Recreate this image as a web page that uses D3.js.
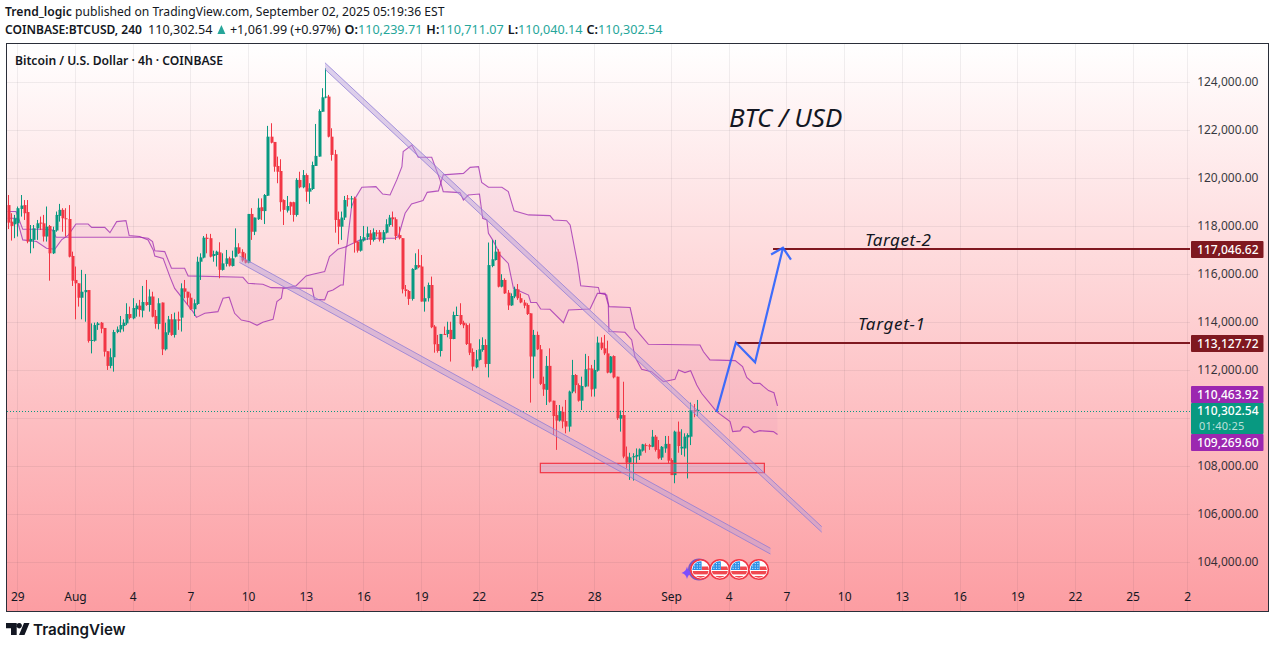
<!DOCTYPE html>
<html><head><meta charset="utf-8">
<script src="https://cdn.jsdelivr.net/npm/d3@7"></script>
<style>
html,body{margin:0;padding:0;background:#fff;overflow:hidden}
text{font-family:"Noto Sans","Open Sans",sans-serif;}
</style></head><body><svg id="c" width="1275" height="648"></svg>
<script>
// All prices in thousands of USD; bar numbers count 4h candles.
const opens=[118.83,118.14,118.03,118.07,118.67,118.83,118.54,117.31,117.38,117.86,
118.10,118.07,117.52,117.96,116.82,117.77,118.38,118.63,118.28,118.25,
116.71,115.71,115.57,114.97,115.20,115.29,113.17,113.18,113.83,113.93,
113.71,112.74,112.13,112.49,113.54,113.65,113.79,113.90,114.29,114.11,
114.49,114.64,114.43,114.79,114.67,115.02,114.21,113.88,114.77,112.82,
113.52,114.07,113.42,114.07,114.14,115.36,115.22,114.97,114.49,114.71,
116.47,116.64,117.47,117.45,116.71,116.75,116.86,116.13,116.38,116.61,
116.29,116.68,117.07,116.88,116.54,116.43,118.46,117.72,118.24,118.74,
118.58,119.22,121.68,121.46,120.46,120.25,119.04,118.60,118.95,118.95,
118.42,119.88,119.57,120.08,119.39,119.50,120.46,120.85,122.72,123.31,
123.35,121.68,120.95,118.24,117.93,118.31,119.11,119.07,119.11,117.31,
116.93,117.35,117.49,117.65,117.38,117.68,117.70,117.38,117.68,118.00,
118.32,118.24,117.58,117.45,115.32,115.25,114.92,116.15,116.33,116.27,
114.81,114.95,115.50,113.77,113.04,112.75,113.46,113.46,113.63,113.25,
114.22,114.25,113.93,113.83,113.07,112.71,112.07,112.38,112.79,113.00,
112.21,116.29,116.54,116.89,115.43,115.71,115.18,114.65,115.02,115.32,
114.95,114.77,114.67,114.32,112.52,113.42,112.82,111.38,111.13,112.13,
110.68,110.08,109.85,110.22,109.83,109.60,111.06,111.75,111.33,110.68,
111.27,112.02,112.02,111.18,111.93,113.10,112.86,112.65,111.85,112.54,
111.68,109.93,110.08,108.35,108.10,108.32,108.35,108.39,108.60,108.83,
108.83,108.76,109.18,108.65,108.31,108.69,108.88,108.21,107.58,109.39,
108.69,108.69,109.15,109.18,110.29,110.24];
const closes=[118.10,117.96,118.28,118.70,118.81,118.49,117.31,117.42,117.86,118.07,
118.07,117.52,117.93,116.82,117.79,118.42,118.63,118.28,118.24,116.68,
115.68,115.57,114.97,115.22,115.29,113.17,113.21,113.83,113.90,113.68,
112.72,112.13,112.49,113.54,113.65,113.83,113.93,114.29,114.13,114.54,
114.64,114.46,114.79,114.67,115.02,114.18,113.88,114.74,112.82,113.53,
114.07,113.42,114.07,114.01,115.36,115.22,114.97,114.49,114.74,116.47,
116.65,117.47,117.42,116.68,116.79,116.89,116.13,116.40,116.61,116.31,
116.61,117.07,116.82,116.52,116.43,118.46,117.72,118.31,118.72,118.58,
119.25,121.68,121.43,120.43,120.22,118.95,118.63,118.79,118.77,118.42,
119.88,119.57,120.08,119.39,119.53,120.50,120.88,122.75,123.32,123.35,
121.68,120.92,118.21,117.93,118.31,119.04,119.07,119.11,117.27,116.93,
117.38,117.49,117.65,117.38,117.70,117.64,117.38,117.70,118.03,118.31,
118.24,117.54,117.45,115.32,115.25,114.92,116.17,116.33,116.24,114.81,
114.95,115.50,113.74,113.03,112.75,113.46,113.42,113.63,113.25,114.25,
114.25,113.88,113.82,113.04,112.68,112.10,112.40,112.82,113.00,112.21,
116.33,116.57,116.89,115.43,115.71,115.15,114.65,115.04,115.32,114.95,
114.77,114.64,114.29,112.52,113.42,112.82,111.38,111.15,112.13,110.64,
110.04,109.85,110.25,109.81,109.60,111.06,111.75,111.33,110.68,111.29,
111.99,111.99,111.15,111.96,113.10,112.86,112.65,111.85,112.52,111.65,
109.95,110.08,108.35,108.10,108.32,108.37,108.42,108.65,108.86,108.81,
108.76,109.18,108.63,108.28,108.76,108.88,108.18,107.58,109.39,108.79,
108.76,109.18,109.25,110.29,110.22,110.30];
const highs=[119.25,118.49,118.42,118.77,119.25,119.04,119.04,118.00,118.00,118.21,
118.35,118.42,118.77,118.00,117.93,118.56,118.88,118.70,118.70,118.83,
116.89,116.27,115.57,116.13,115.96,115.29,113.90,113.93,113.96,113.96,
113.71,112.74,112.86,113.63,113.77,114.21,114.07,114.74,114.60,114.95,
114.74,114.88,115.46,115.71,115.32,115.22,114.46,114.95,114.77,113.93,
114.21,114.29,114.35,114.39,115.57,115.71,115.22,115.15,114.90,116.68,
116.82,117.54,117.63,117.63,116.93,116.93,117.28,116.82,116.96,116.68,
116.93,117.86,117.24,116.99,116.82,118.46,118.70,118.31,119.11,119.11,
119.29,122.13,122.24,121.46,120.85,120.74,119.07,119.21,118.97,118.97,
119.95,120.22,120.29,120.15,119.74,120.64,122.21,122.82,123.70,124.53,
123.42,122.03,121.13,118.56,118.56,119.21,119.25,119.21,119.18,117.31,
117.54,117.96,117.93,117.79,117.86,117.79,117.79,117.79,118.24,118.42,
118.56,118.32,117.93,117.45,115.50,115.29,116.20,116.82,116.99,116.75,
115.43,115.60,115.85,113.83,113.42,113.46,113.77,113.97,113.97,114.39,
114.60,114.74,114.01,113.90,113.90,112.86,112.79,113.24,113.32,113.24,
117.27,117.38,117.38,116.99,115.95,115.78,115.29,115.15,115.43,115.54,
115.15,114.88,114.74,114.32,113.63,113.56,113.00,111.68,112.54,112.86,
110.68,110.50,110.50,110.43,110.71,111.10,112.38,111.79,111.40,111.68,
112.63,112.54,112.17,112.38,113.35,113.32,113.42,113.18,112.54,112.57,
111.68,110.27,111.47,108.77,108.51,108.49,108.69,108.69,108.88,108.90,
108.88,109.46,109.25,109.04,108.79,109.21,109.21,108.28,109.43,109.81,
109.49,109.32,109.32,110.60,110.54,110.71];
const lows=[117.83,117.35,117.45,117.52,118.35,118.21,117.24,116.82,117.03,117.38,
117.79,117.31,117.31,115.68,116.79,117.72,118.14,117.72,117.52,116.65,
115.46,114.07,114.60,114.07,113.97,113.10,112.65,113.14,113.63,113.49,
112.52,111.96,112.03,111.89,113.49,113.52,113.56,113.83,114.07,114.07,
114.18,114.18,114.15,114.63,114.39,114.15,113.68,113.65,112.58,112.77,
113.42,113.38,113.31,113.63,113.56,114.95,114.67,114.46,114.21,114.67,
115.71,116.61,116.82,116.65,116.47,116.27,115.78,116.10,116.27,116.27,
116.27,116.65,116.79,116.47,116.40,116.40,117.38,117.58,118.21,118.21,
118.04,119.21,121.40,120.22,119.74,118.56,118.00,118.52,118.42,118.14,
118.35,119.53,119.53,118.97,118.88,119.46,120.46,120.85,122.72,123.28,
121.65,120.68,117.68,117.20,117.38,118.21,118.77,118.70,116.85,116.85,
116.89,117.31,117.38,117.17,117.31,117.52,117.31,117.24,117.65,117.93,
117.93,117.38,117.40,115.15,115.02,114.67,114.85,116.13,116.20,114.81,
114.39,114.81,113.70,112.68,112.68,112.52,113.42,113.32,112.31,113.24,
114.21,113.83,113.70,113.00,112.58,111.93,112.03,112.35,112.72,112.07,
111.65,116.24,116.52,115.40,115.40,115.13,114.46,114.63,114.95,114.88,
114.74,114.53,114.25,110.60,111.61,112.79,111.33,110.88,110.50,110.60,
109.25,108.63,109.81,109.53,109.32,109.39,110.99,110.99,110.64,110.29,
111.24,111.27,110.85,110.85,111.89,112.79,112.58,111.82,111.82,111.61,
109.88,109.39,108.28,107.86,107.38,107.35,108.07,108.21,108.56,108.51,
108.63,108.74,108.56,108.24,108.21,108.51,108.07,107.58,107.24,108.51,
108.42,108.35,107.44,108.83,109.99,110.04];

const spanBBars=[0,2.6,4.7,11.1,14,15.1,41.2,43.8,45.2,45.9,49,51.1,55.2,56.3,73.4,75,79.6,82.2,95,95.7,98.9,99.9,101.5,103.9,104.7,105.6,110,114.2,120.8,121.9,124,126,129.6,130.9,134.4,135.9,142.2,144.3,146.9,147.9,150,154.2,156.2,158,162.5,169.2,170.3,174.4,175.5,177.8,178.8,184.3,184.8,186.9,187.6,194.2,195.7,199.9,216,217.1,219.1,227,229.3,230.6,232.7,234.7,237.4,239.1,240.2];
const spanBValues=[118.56,118.56,117.82,117.82,117.79,117.49,117.49,117.45,117.31,116.93,116.89,116.20,116.20,115.88,115.82,115.57,115.53,115.39,115.36,114.90,114.88,115.22,115.29,115.50,115.50,117.10,117.38,117.45,117.45,117.52,118.49,118.88,119.02,119.36,119.42,120.09,120.15,120.40,120.43,119.77,119.57,119.57,119.39,118.59,118.42,118.39,118.21,118.18,118.00,116.40,115.47,115.40,115.15,115.09,114.60,114.56,113.69,113.03,113.00,112.72,112.38,112.35,112.10,111.65,111.40,111.40,111.10,111.01,110.46];
const spanABars=[0,2.8,4.7,9,12.1,14.7,16.8,18.9,21.3,25.1,26.2,30.3,31.9,34,36.9,37.9,41.2,43.8,45.4,45.9,48.5,50.6,52.1,57.8,58.9,61.5,65.6,67.2,69.1,70.8,72.9,75.5,77.8,79.6,82.8,84,85.4,85.9,90,93.1,95.2,98.9,100.4,103,105.8,107.3,108.4,110.5,114.9,117,119.3,121.4,123,123.4,126.1,128.1,132.3,134.9,135.9,141.1,142.2,143.7,147.2,148.2,149.5,150,151.3,152.4,153.6,156.2,157.8,162.5,163.2,165,166.3,169.2,173.4,175,181.7,184,186.4,187.4,187.6,192.6,194.7,195.7,197.8,200.9,204.6,208.2,209.3,211.3,213.1,215,216.5,221.2,225.4,226.2,228.5,229.5,231.1,232.9,234.7,238.9,240.2];
const spanAValues=[118.28,118.28,117.38,117.31,117.03,116.99,117.38,117.58,118.04,118.04,117.90,117.90,117.68,118.14,118.18,117.56,117.52,117.38,116.96,116.71,116.61,115.85,115.36,114.39,114.15,114.32,114.39,114.95,114.99,114.32,114.04,113.97,113.82,113.95,114.07,114.81,114.95,115.36,115.47,115.88,115.95,116.06,116.68,116.99,117.10,118.77,119.11,119.57,119.60,119.29,119.25,119.88,120.43,121.06,121.33,120.82,120.82,119.88,119.39,119.35,119.04,119.25,119.29,118.28,118.21,117.65,117.38,117.10,116.75,116.40,115.36,115.08,114.77,114.77,114.50,114.49,113.93,114.46,114.50,115.15,115.15,114.67,113.56,113.53,113.21,112.51,111.99,111.89,111.47,111.57,111.96,111.85,111.93,111.33,110.99,110.22,109.81,109.39,109.42,109.60,109.57,109.35,109.43,109.39,109.27];

const priceTicks=[104,106,108,110,112,114,116,118,120,122,124];
const labelledTicks=[104,106,108,112,114,116,118,120,122,124];
const dateBars=[3,21,39,57,75,93,111,129,147,165,183,207,225,243,261,279,297,315,333,351,368];
const dateLabels=["29","Aug","4","7","10","13","16","19","22","25","28","Sep","4","7","10","13","16","19","22","25","2"];

const channelBars=[[99,254],[72.3,238]];
const channelTop=[[124.76,105.43],[116.71,104.53]];
const channelBottom=[[124.49,105.20],[116.44,104.29]];
const zoneBars=[166.2,236.1];
const zonePrices=[108.07,107.68];
const arrowBars=[221.2,227.2,233.2,241.9];
const arrowPrices=[110.22,113.10,112.28,117.05];
const headBars=[238.2,241.9,244.4];
const headPrices=[116.77,117.05,116.56];
const targets=[117.04662,113.12772];
const targetStarts=[238.8,227.2];
const flagBars=[216.2,222.2,228.2,234.3];
const lastPrice=110.30254, spanALast=109.2696, spanBLast=110.46392;

const svg=d3.select("#c");
const x=d3.scaleLinear().domain([0,368]).range([7.7,1187.1]);
const y=d3.scaleLinear().domain([104,124]).range([562,82]);      // axis, grid, target lines
const yMark=d3.scaleLinear().domain([104,124]).range([561,81]);  // marks
const fmt=d3.format(",.2f");
const usd=v=>fmt(v*1000);

const defs=svg.append("defs");
const g0=defs.append("linearGradient").attr("id","bg").attr("x1",0).attr("x2",0).attr("y1",0).attr("y2",1);
g0.append("stop").attr("offset",0).attr("stop-color","#ffffff");
g0.append("stop").attr("offset",1).attr("stop-color","#fc9da2");
defs.append("clipPath").attr("id","pl").append("rect").attr("x",7).attr("y",44).attr("width",1261).attr("height",567);
defs.append("clipPath").attr("id","fc").append("circle").attr("r",8.2);

// header
const ink="#131722";
svg.append("text").attr("x",5).attr("y",16).attr("font-size",12.13).attr("fill",ink)
  .html('<tspan font-weight="600">Trend_logic</tspan> published on TradingView.com, September 02, 2025 05:19:36 EST');
const hdr=svg.append("text").attr("x",5).attr("y",34).attr("font-size",12.6).attr("fill",ink);
hdr.html('<tspan font-weight="600" font-size="12.05">COINBASE:BTCUSD, 240</tspan><tspan dx="6">110,302.54</tspan><tspan dx="17.5">+1,061.99 (+0.97%)</tspan>'+
 '<tspan dx="4" font-weight="600">O:</tspan><tspan fill="#26a69a">110,239.71</tspan><tspan dx="4" font-weight="600">H:</tspan><tspan fill="#26a69a">110,711.07</tspan>'+
 '<tspan dx="4" font-weight="600">L:</tspan><tspan fill="#26a69a">110,040.14</tspan><tspan dx="4" font-weight="600">C:</tspan><tspan fill="#26a69a">110,302.54</tspan>');
const triX=hdr.selectAll("tspan").nodes()[1].getEndPositionOfChar(9).x;
svg.append("path").attr("d",`M${triX+5} 34 L${triX+9} 25 L${triX+13} 34Z`).attr("fill","#26a69a");

// plot background
svg.append("rect").attr("x",6.5).attr("y",43.5).attr("width",1262).attr("height",568).attr("fill","url(#bg)");

// grid
const grid=svg.append("g");
grid.selectAll("line.h").data(priceTicks).join("line").attr("class","h")
 .attr("x1",7).attr("x2",1190).attr("y1",d=>Math.round(y(d))+.5).attr("y2",d=>Math.round(y(d))+.5)
 .attr("stroke","#2a2e39").attr("stroke-opacity",.07);
grid.selectAll("line.v").data(dateBars).join("line").attr("class","v")
 .attr("y1",44).attr("y2",611).attr("x1",d=>Math.round(x(d))+.5).attr("x2",d=>Math.round(x(d))+.5)
 .attr("stroke","#2a2e39").attr("stroke-opacity",.07);

const plot=svg.append("g").attr("clip-path","url(#pl)");

// Cloud
const line=d3.line().x(d=>x(d[0])).y(d=>yMark(d[1]));
const sa=spanABars.map((b,i)=>[b,spanAValues[i]]);
const sb=spanBBars.map((b,i)=>[b,spanBValues[i]]);
plot.append("path").attr("d",line(sa.concat(sb.slice().reverse()))+"Z").attr("fill","#9c27b0").attr("fill-opacity",.045).attr("stroke","none");
[sa,sb].forEach(s=>plot.append("path").attr("d",line(s)).attr("fill","none").attr("stroke","#9c27b0").attr("stroke-opacity",.75).attr("stroke-width",1.1));

// last-price dotted line
plot.append("line").attr("x1",7).attr("x2",1190).attr("y1",Math.round(y(lastPrice))+.5).attr("y2",Math.round(y(lastPrice))+.5)
 .attr("stroke","#089981").attr("stroke-dasharray","1 2");

// candles
const bars=d3.range(opens.length);
const col=i=>closes[i]>=opens[i]?"#089981":"#f23645";
plot.selectAll("line.w").data(bars).join("line").attr("class","w")
 .attr("x1",i=>Math.round(x(i))+.5).attr("x2",i=>Math.round(x(i))+.5)
 .attr("y1",i=>yMark(highs[i])).attr("y2",i=>yMark(lows[i])).attr("stroke",col).attr("stroke-width",1);
plot.selectAll("rect.b").data(bars).join("rect").attr("class","b")
 .attr("x",i=>Math.round(x(i))-.5).attr("width",3)
 .attr("y",i=>Math.min(yMark(opens[i]),yMark(closes[i])))
 .attr("height",i=>Math.max(1,Math.abs(yMark(opens[i])-yMark(closes[i])))).attr("fill",col);

// zone
plot.append("rect").attr("x",x(zoneBars[0])).attr("width",x(zoneBars[1])-x(zoneBars[0]))
 .attr("y",yMark(zonePrices[0])).attr("height",yMark(zonePrices[1])-yMark(zonePrices[0]))
 .attr("fill","#b39ddb").attr("fill-opacity",.25).attr("stroke","#f23645").attr("stroke-width",1.2);

// channels
channelBars.forEach((b,k)=>{
 const pts=[[b[0],channelTop[k][0]],[b[1],channelTop[k][1]],[b[1],channelBottom[k][1]],[b[0],channelBottom[k][0]]];
 plot.append("path").attr("d",line(pts)+"Z").attr("fill","#b39ddb").attr("fill-opacity",.45);
 plot.append("path").attr("d",line(pts.slice(0,2))).attr("stroke","#8c7ad6").attr("stroke-opacity",.75).attr("fill","none");
 plot.append("path").attr("d",line(pts.slice(2))).attr("stroke","#8c7ad6").attr("stroke-opacity",.75).attr("fill","none");
});

// target lines
targets.forEach((t,k)=>plot.append("line").attr("x1",x(targetStarts[k])).attr("x2",1190)
 .attr("y1",y(t)).attr("y2",y(t)).attr("stroke","#7f1820").attr("stroke-width",2));

// arrow
plot.append("path").attr("d",line(arrowBars.map((b,i)=>[b,arrowPrices[i]]))).attr("fill","none").attr("stroke","#2962ff").attr("stroke-opacity",.9).attr("stroke-width",2.2).attr("stroke-linejoin","miter");
plot.append("path").attr("d",line(headBars.map((b,i)=>[b,headPrices[i]]))).attr("fill","none").attr("stroke","#2962ff").attr("stroke-opacity",.9).attr("stroke-width",2.2);

// annotation text
const ital=(t,px,py,s,ls,ws)=>plot.append("text").attr("x",px).attr("y",py).attr("font-size",s).attr("font-style","italic").attr("fill",ink).attr("letter-spacing",ls).attr("word-spacing",ws).text(t);
ital("BTC / USD",729,127,26,0,-.5);
ital("Target-2",865,246,17,.55,0);
ital("Target-1",858,330,17,.7,0);

// event flags
const star=svg.append("g");
star.append("circle").attr("cx",699).attr("cy",569.5).attr("r",10).attr("fill","none").attr("stroke","#7e57c2").attr("stroke-width",2);
star.append("path").attr("d","M687 566.5 Q688 571.5 692.5 573 Q688 574 687 579 Q686 574 681.5 573 Q686 571.5 687 566.5Z").attr("fill","#7c4dff");
flagBars.forEach(b=>{
 const g=svg.append("g").attr("transform",`translate(${x(b)},569.5)`);
 g.append("circle").attr("r",9.8).attr("fill","#fff").attr("stroke","#f23645").attr("stroke-width",1.6);
 const c=g.append("g").attr("clip-path","url(#fc)");
 c.append("rect").attr("x",-9).attr("y",-9).attr("width",18).attr("height",18).attr("fill","#fff");
 c.append("rect").attr("x",-9).attr("y",1.5).attr("width",18).attr("height",3.4).attr("fill","#f0484f");
 c.append("rect").attr("x",-9).attr("y",6.5).attr("width",18).attr("height",3).attr("fill","#f0484f");
 c.append("rect").attr("x",1).attr("y",-3).attr("width",9).attr("height",3.5).attr("fill","#f0484f");
 c.append("rect").attr("x",-9).attr("y",-9).attr("width",10).attr("height",9.5).attr("fill","#2a8fe6");
 for(let ix=0;ix<3;ix++)for(let iy=0;iy<3;iy++)c.append("rect").attr("x",-6.5+ix*2.6).attr("y",-6.5+iy*2.4).attr("width",1.1).attr("height",1.1).attr("fill","#cfe6ff");
});

// axes
const yAxis=d3.axisRight(y).tickValues(labelledTicks).tickFormat(usd).tickSize(0).tickPadding(0);
const ya=svg.append("g").attr("transform","translate(1258.5,0)").call(yAxis);
ya.select(".domain").remove();
ya.selectAll("text").attr("text-anchor","end").attr("font-size",12).attr("fill",ink).attr("opacity",.85).style("font-family",'"Noto Sans"');
const xAxis=d3.axisBottom(x).tickValues(dateBars).tickFormat((d,i)=>dateLabels[i]).tickSize(0).tickPadding(0);
const xa=svg.append("g").attr("transform","translate(0,592)").call(xAxis);
xa.select(".domain").remove();
xa.selectAll("text").attr("font-size",12).attr("fill",ink).style("font-family",'"Noto Sans"');

// price boxes
const box=(t,yy,h,c)=>{svg.append("rect").attr("x",1191).attr("y",yy).attr("width",72.5).attr("height",h).attr("fill",c).attr("rx",1);
 return svg.append("text").attr("x",1258.5).attr("y",yy+12.5).attr("text-anchor","end").attr("font-size",12).attr("font-weight",500).attr("fill","#fff").text(t);};
box(usd(targets[0]),241,17,"#7f1820");
box(usd(targets[1]),335,17,"#7f1820");
box(usd(spanBLast),386,17,"#9c27b0");
box(usd(spanALast),434,17,"#9c27b0");
box(usd(lastPrice),403,31,"#089981").attr("y",415);
svg.append("text").attr("x",1199).attr("y",430.3).attr("font-size",11).attr("letter-spacing",.25).attr("fill","#fff").attr("fill-opacity",.72).text("01:40:25");

// frame
svg.append("rect").attr("x",6.5).attr("y",43.5).attr("width",1262).attr("height",568).attr("fill","none").attr("stroke","#2a2e39").attr("stroke-width",1);

// symbol title
svg.append("text").attr("x",15).attr("y",65).attr("font-size",12.15).attr("font-weight",600).attr("fill",ink).text("Bitcoin / U.S. Dollar · 4h · COINBASE");

// logo
svg.append("path").attr("d","M6 623H16.7V635H11V628.2H6ZM24 623H29.5L24.5 635H19ZM19.2 623a2.7 2.7 0 1 0 .01 0Z").attr("fill",ink);
svg.append("text").attr("x",33).attr("y",635).attr("font-size",15.2).attr("font-weight",600).attr("fill",ink).style("font-family","Inter").text("TradingView");
</script></body></html>
